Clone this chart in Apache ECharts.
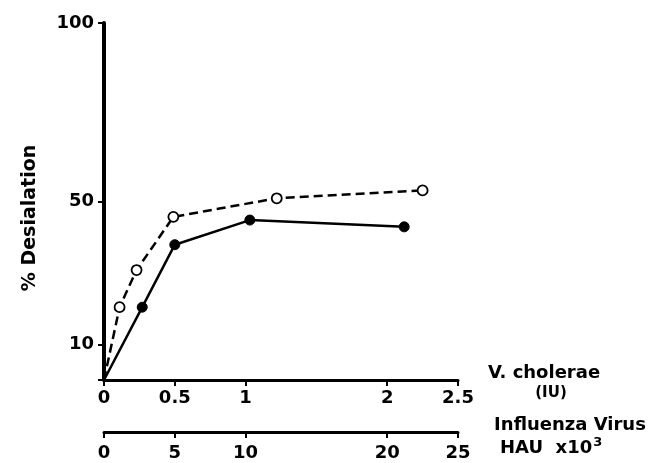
<!DOCTYPE html>
<html><head><meta charset="utf-8">
<script src="https://cdn.jsdelivr.net/npm/echarts@6/dist/echarts.min.js"></script>
<style>html,body{margin:0;padding:0;background:#fff}#c{width:651px;height:463px}</style>
</head><body><div id="c"></div>
<script>
// V. cholerae (IU) on lower axis 0..2.5; influenza virus HAU x10^3 on axis 0..25
const openX = [0, 0.11, 0.23, 0.49, 1.22, 2.25];
const openY = [0, 20.4, 30.8, 45.7, 50.9, 53.1];
const filledX = [0, 0.27, 0.5, 1.03, 2.12];
const filledY = [0, 20.4, 37.9, 44.8, 42.9];
const xTicks1 = [0, 0.5, 1, 2, 2.5];
const xTicks2 = [0, 5, 10, 20, 25];
const yTicks = [0, 10, 50, 100];
const yLabels = [10, 50, 100];

const FONT = 'DejaVu Sans';
const lbl = {fontFamily: FONT, fontWeight: 'bold', fontSize: 18, color: '#000'};

function pts(xs, ys) {
  return xs.map((x, i) => i === 0 ? {value: [x, ys[i]], symbol: 'none'} : [x, ys[i]]);
}

const chart = echarts.init(document.getElementById('c'), null, {renderer: 'canvas'});
chart.setOption({
  animation: false,
  backgroundColor: '#fff',
  grid: {left: 104, right: 193, top: 23, bottom: 83, containLabel: false},
  xAxis: [
    {type: 'value', min: 0, max: 2.5, position: 'bottom',
     axisLine: {lineStyle: {color: '#000', width: 3}},
     axisTick: {length: 6, lineStyle: {color: '#000', width: 2}, customValues: xTicks1},
     axisLabel: Object.assign({margin: 9, customValues: xTicks1,
       formatter: v => String(v)}, lbl),
     splitLine: {show: false}},
    {type: 'value', min: 0, max: 25, position: 'bottom', offset: 52,
     axisLine: {show: true, lineStyle: {color: '#000', width: 3}},
     axisTick: {show: true, length: 6, lineStyle: {color: '#000', width: 2}, customValues: xTicks2},
     axisLabel: Object.assign({show: true, margin: 12, customValues: xTicks2}, lbl),
     splitLine: {show: false}}
  ],
  yAxis: {type: 'value', min: 0, max: 100,
    axisLine: {show: true, lineStyle: {color: '#000', width: 4}},
    axisTick: {show: true, length: 6, lineStyle: {color: '#000', width: 2}, customValues: yTicks},
    axisLabel: Object.assign({margin: 10, customValues: yLabels}, lbl),
    splitLine: {show: false}},
  graphic: [
    {type: 'text', x: 30, y: 218, rotation: Math.PI / 2,
     style: {text: '% Desialation', fontFamily: FONT, fontWeight: 'bold', fontSize: 19,
       fill: '#000', align: 'center', verticalAlign: 'middle'}},
    {type: 'text', x: 544, y: 373,
     style: {text: 'V. cholerae', fontFamily: FONT, fontWeight: 'bold', fontSize: 18,
       fill: '#000', align: 'center', verticalAlign: 'middle'}},
    {type: 'text', x: 551, y: 393,
     style: {text: '(IU)', fontFamily: FONT, fontWeight: 'bold', fontSize: 15,
       fill: '#000', align: 'center', verticalAlign: 'middle'}},
    {type: 'text', x: 570, y: 425,
     style: {text: 'Influenza Virus', fontFamily: FONT, fontWeight: 'bold', fontSize: 18,
       fill: '#000', align: 'center', verticalAlign: 'middle'}},
    {type: 'text', x: 500, y: 448,
     style: {text: 'HAU  x10{sup|3}', fontFamily: FONT, fontWeight: 'bold', fontSize: 18,
       fill: '#000', align: 'left', verticalAlign: 'middle',
       rich: {sup: {fontFamily: FONT, fontWeight: 'bold', fontSize: 13, fill: '#000',
         verticalAlign: 'top', padding: [0, 0, 10, 1]}}}}
  ],
  series: [
    {type: 'line', xAxisIndex: 0, data: pts(openX, openY),
     symbol: 'circle', symbolSize: 10, showAllSymbol: true,
     lineStyle: {color: '#000', width: 2.5, type: [9, 5]},
     itemStyle: {color: '#fff', borderColor: '#000', borderWidth: 1.8}, z: 3},
    {type: 'line', xAxisIndex: 0, data: pts(filledX, filledY),
     symbol: 'circle', symbolSize: 10, showAllSymbol: true,
     lineStyle: {color: '#000', width: 2.5},
     itemStyle: {color: '#000', borderColor: '#000', borderWidth: 1}, z: 4}
  ]
});
</script></body></html>
